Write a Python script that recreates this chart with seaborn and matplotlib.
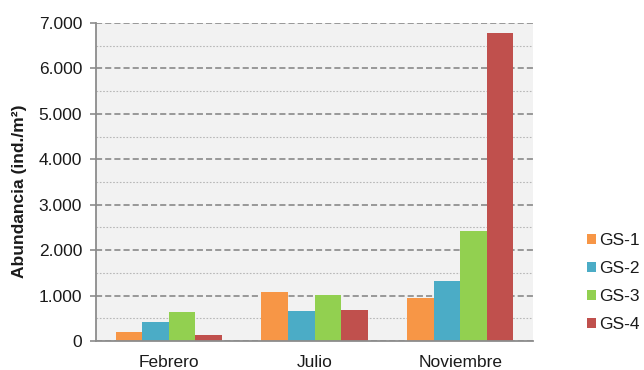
import matplotlib
matplotlib.use("Agg")
import matplotlib.pyplot as plt
import matplotlib.ticker as mticker
from matplotlib.patches import Patch
import seaborn as sns
import pandas as pd

meses = ["Febrero", "Julio", "Noviembre"]
estaciones = ["GS-1", "GS-2", "GS-3", "GS-4"]
gs1 = [200, 1070, 940]
gs2 = [425, 650, 1320]
gs3 = [640, 1010, 2420]
gs4 = [130, 690, 6770]
colores = ["#F79646", "#4BACC6", "#92D050", "#C0504D"]

sns.set_theme(style="white")
plt.rcParams["font.family"] = ["Liberation Sans", "DejaVu Sans"]

rows = []
for est, vals in zip(estaciones, [gs1, gs2, gs3, gs4]):
    for mes, v in zip(meses, vals):
        rows.append({"Mes": mes, "Estación": est, "Abundancia": v})
df = pd.DataFrame(rows)

fig = plt.figure(figsize=(6.44, 3.70), dpi=100)
ax = fig.add_axes([96 / 644, 29 / 370, 437 / 644, 318 / 370])
ax.set_facecolor("#f2f2f2")

sns.barplot(data=df, x="Mes", y="Abundancia", hue="Estación", order=meses,
            hue_order=estaciones, palette=colores, width=0.73, saturation=1,
            edgecolor="none", linewidth=0, legend=False, ax=ax)

ax.set_xlim(-0.5, 2.5)
ax.set_ylim(0, 7000)
ax.yaxis.set_major_locator(mticker.MultipleLocator(1000))
ax.yaxis.set_minor_locator(mticker.MultipleLocator(500))
ax.yaxis.set_major_formatter(mticker.FuncFormatter(
    lambda v, p: f"{int(v):,}".replace(",", ".")))

ax.set_axisbelow(True)
ax.grid(axis="y", which="major", color="#808080", linestyle=(0, (4, 2)), linewidth=1.1)
ax.grid(axis="y", which="minor", color="#b8b8b8", linestyle=(0, (1.5, 1.5)), linewidth=0.8)
ax.grid(axis="x", visible=False)

for s in ["top", "right"]:
    ax.spines[s].set_visible(False)
for s in ["left", "bottom"]:
    ax.spines[s].set_color("#8c8c8c")
    ax.spines[s].set_linewidth(1.3)

# category separators on the x axis
ax.set_xticks([-0.5, 0.5, 1.5, 2.5], minor=True)
ax.tick_params(axis="x", which="major", length=0, pad=10, labelsize=12.5, colors="#1a1a1a")
ax.tick_params(axis="x", which="minor", length=4, width=1.2, color="#8c8c8c", direction="out")
ax.tick_params(axis="y", which="major", length=4, width=1.2, color="#8c8c8c",
               direction="out", left=True, labelsize=12.5, labelcolor="#1a1a1a", pad=6)
ax.tick_params(axis="y", which="minor", length=0)

ax.set_xlabel("")
ax.set_ylabel("Abundancia (ind./m²)", fontsize=12.5, fontweight="bold", color="#1a1a1a")
ax.yaxis.set_label_coords(27 / 644, 1 - 191 / 370, transform=fig.transFigure)

handles = [Patch(facecolor=c, edgecolor="none") for c in colores]
fig.legend(handles, estaciones, loc="center left", bbox_to_anchor=(587 / 644, 1 - 282.5 / 370),
           frameon=False, fontsize=12.5, handlelength=0.5, handleheight=0.5,
           handletextpad=0.2, labelspacing=0.75, borderpad=0, borderaxespad=0)
for t in fig.legends[0].get_texts():
    t.set_color("#1a1a1a")

fig.savefig("out.png", dpi=100)
